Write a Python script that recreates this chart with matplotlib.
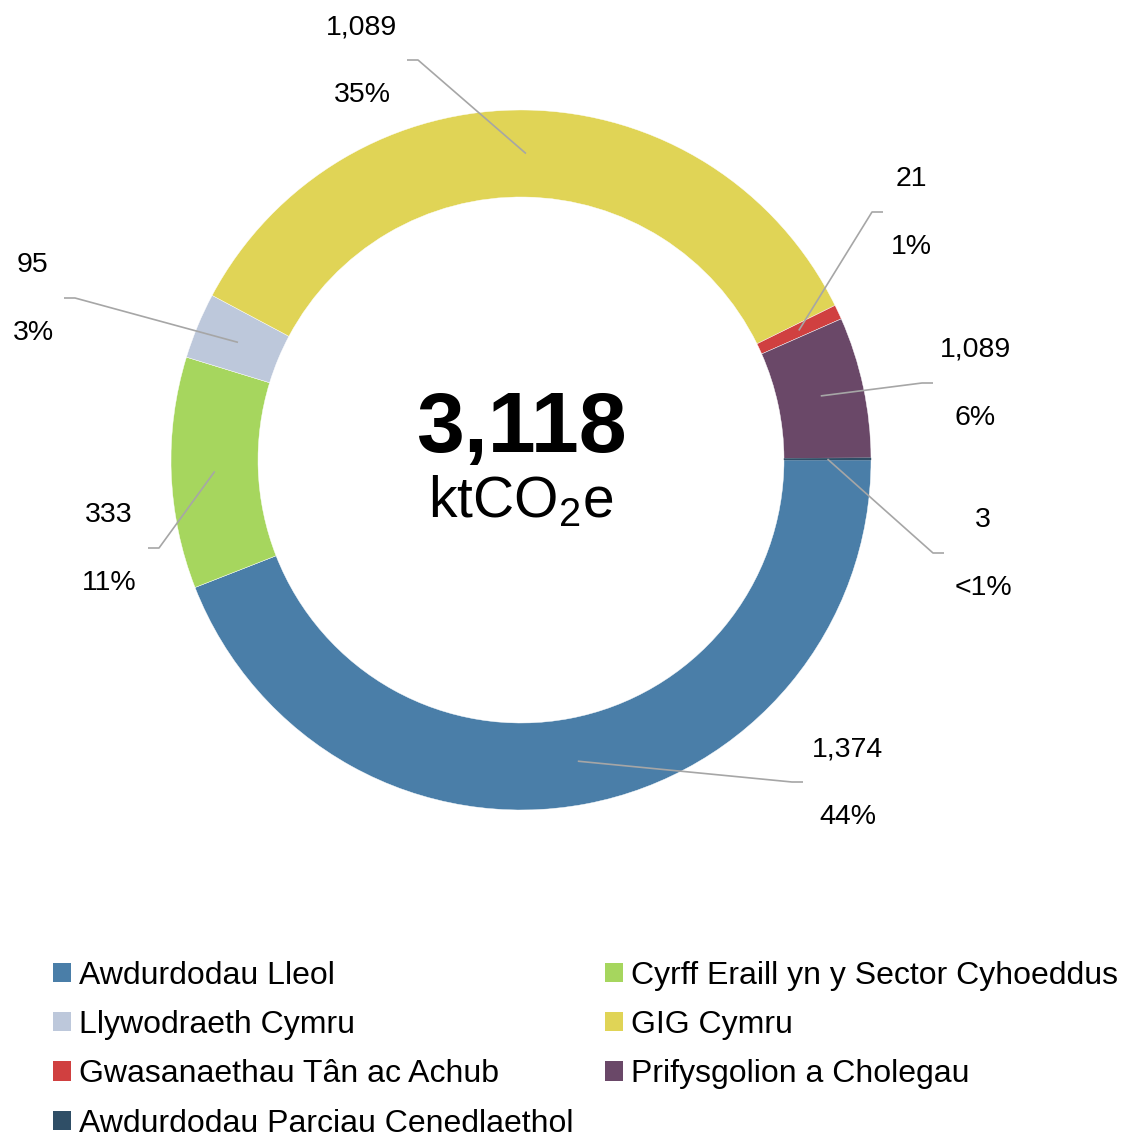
import numpy as np
import matplotlib
matplotlib.use('Agg')
import matplotlib.pyplot as plt
from matplotlib.patches import Patch

plt.rcParams['font.family'] = ['Liberation Sans', 'DejaVu Sans']
plt.rcParams['mathtext.fontset'] = 'custom'
plt.rcParams['mathtext.rm'] = 'Liberation Sans'

# data (clockwise from 3 o'clock)
sectors = ['Awdurdodau Lleol', 'Cyrff Eraill yn y Sector Cyhoeddus', 'Llywodraeth Cymru',
           'GIG Cymru', 'Gwasanaethau Tân ac Achub', 'Prifysgolion a Cholegau',
           'Awdurdodau Parciau Cenedlaethol']
values = [1374, 333, 95, 1089, 21, 203, 3]
value_labels = ['1,374', '333', '95', '1,089', '21', '1,089', '3']
pct_labels = ['44%', '11%', '3%', '35%', '1%', '6%', '<1%']
colors = ['#4A7EA8', '#A6D65E', '#BDC8DB', '#E0D456', '#D04040', '#6A4868', '#2F4E66']
total_label = '3,118'

# label layout in pixels: elbow of leader line, and centre of the label pair
elbows = [(792, 782), (159, 548), (75, 298), (418, 60), (872, 212), (922, 383), (933, 553)]
label_xy = [(848, 782), (109, 548), (33, 298), (362, 60), (911, 212), (975, 383), (983, 553)]

W, H = 1121, 1136
cx, cy = 521, 460
R, ring = 350, 87

fig = plt.figure(figsize=(W / 100, H / 100), dpi=100)
ax = fig.add_axes([0, 0, 1, 1])

wedges, _ = ax.pie(values, colors=colors, startangle=0, center=(cx, cy), radius=R,
                   wedgeprops=dict(width=ring, edgecolor='white', linewidth=0.3))
wedges[-1].set_edgecolor(colors[-1])
ax.set_xlim(0, W)
ax.set_ylim(H, 0)  # y down, so pie runs clockwise on screen
ax.set_aspect('equal')
ax.axis('off')

rmid = R - ring / 2
for w, (ex, ey), (tx, ty), vl, pl in zip(wedges, elbows, label_xy, value_labels, pct_labels):
    th = np.deg2rad((w.theta1 + w.theta2) / 2)
    sx, sy = cx + rmid * np.cos(th), cy + rmid * np.sin(th)
    endx = ex + (11 if tx > ex else -11)
    ax.plot([sx, ex, endx], [sy, ey, ey], color='#A6A6A6', lw=1.2, solid_capstyle='butt')
    ax.text(tx, ey - 33, vl, ha='center', va='center', fontsize=20.5)
    ax.text(tx, ey + 35, pl, ha='center', va='center', fontsize=20.5)

# centre total
ax.text(cx, 452, total_label, ha='center', va='baseline', fontsize=62, fontweight='bold')
ax.text(cx, 518, 'ktCO$_2$e', ha='center', va='baseline', fontsize=41)

# legend filled row-wise: reorder for column filling
order = [0, 2, 4, 6, 1, 3, 5]
handles = [Patch(facecolor=colors[i], edgecolor='none') for i in order]
ax.legend(handles, [sectors[i] for i in order], ncol=2, loc='upper left',
          bbox_to_anchor=(53, 961), bbox_transform=ax.transData, frameon=False,
          fontsize=23, handlelength=0.55, handleheight=0.55, handletextpad=0.25,
          columnspacing=1.0, labelspacing=0.6, borderpad=0, borderaxespad=0)

fig.savefig('out.png', dpi=100)
